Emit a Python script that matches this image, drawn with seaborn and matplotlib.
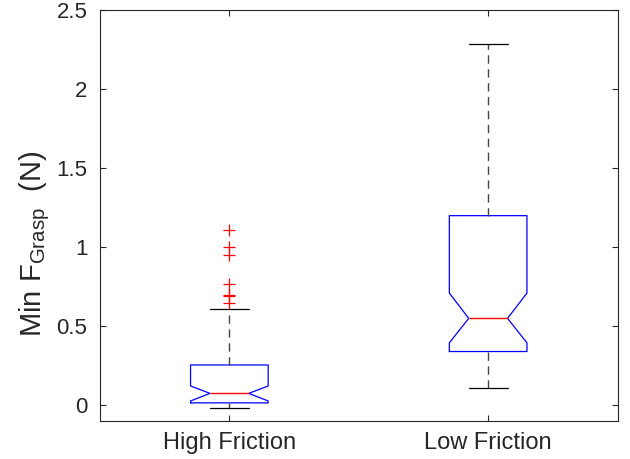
import matplotlib
matplotlib.use("Agg")
import matplotlib.pyplot as plt
import seaborn as sns

# ---- data ----
categories = ["High Friction", "Low Friction"]
q1 = [0.015, 0.34]
median = [0.075, 0.55]
q3 = [0.255, 1.20]
notch_lo = [0.027, 0.395]
notch_hi = [0.122, 0.71]
whisker_lo = [-0.017, 0.11]
whisker_hi = [0.61, 2.285]
outliers = [[1.11, 1.00, 0.95, 0.77, 0.70, 0.69, 0.65], []]
yticks = [0, 0.5, 1, 1.5, 2, 2.5]
ytick_labels = ["0", "0.5", "1", "1.5", "2", "2.5"]

sns.set_theme(style="ticks")
plt.rcParams["font.family"] = ["Liberation Sans", "DejaVu Sans"]
plt.rcParams["mathtext.fontset"] = "custom"
plt.rcParams["mathtext.rm"] = "Liberation Sans"
plt.rcParams["mathtext.it"] = "Liberation Sans"

fig = plt.figure(figsize=(6.3, 4.59), dpi=100)
ax = fig.add_axes([0.1587, 0.0834, 0.8215, 0.8942])

stats = []
for i, name in enumerate(categories):
    stats.append(dict(label=name, q1=q1[i], med=median[i], q3=q3[i],
                      cilo=notch_lo[i], cihi=notch_hi[i],
                      whislo=whisker_lo[i], whishi=whisker_hi[i],
                      fliers=outliers[i]))

ax.bxp(stats, positions=[1, 2], widths=0.30, capwidths=0.15, shownotches=True,
       boxprops=dict(color="#0000ff", linewidth=0.9),
       medianprops=dict(color="#ff0000", linewidth=1.0),
       whiskerprops=dict(color="#444444", linewidth=1.0, linestyle=(0, (6, 4))),
       capprops=dict(color="#000000", linewidth=0.9),
       flierprops=dict(marker="+", markeredgecolor="#ff0000", markersize=8,
                       markeredgewidth=0.9, linestyle="none"))

ax.set_xlim(0.5, 2.5)
ax.set_ylim(-0.098, 2.5)
ax.set_xticks([1, 2])
ax.set_xticklabels(categories)
ax.set_yticks(yticks)
ax.set_yticklabels(ytick_labels)

for s in ax.spines.values():
    s.set_color("#262626")
    s.set_linewidth(0.8)
    s.set_visible(True)
ax.tick_params(axis="both", direction="in", length=4, width=0.8, color="#262626",
               labelcolor="#262626", top=True, right=True)
ax.tick_params(axis="y", labelsize=16, pad=9)
ax.tick_params(axis="x", labelsize=17, pad=8)

ax.set_ylabel(r"Min F$_{\mathrm{Grasp}}$  (N)", fontsize=21, color="#262626")
ax.yaxis.set_label_coords(-0.092, 0.43)

fig.savefig("out.png", dpi=100)
